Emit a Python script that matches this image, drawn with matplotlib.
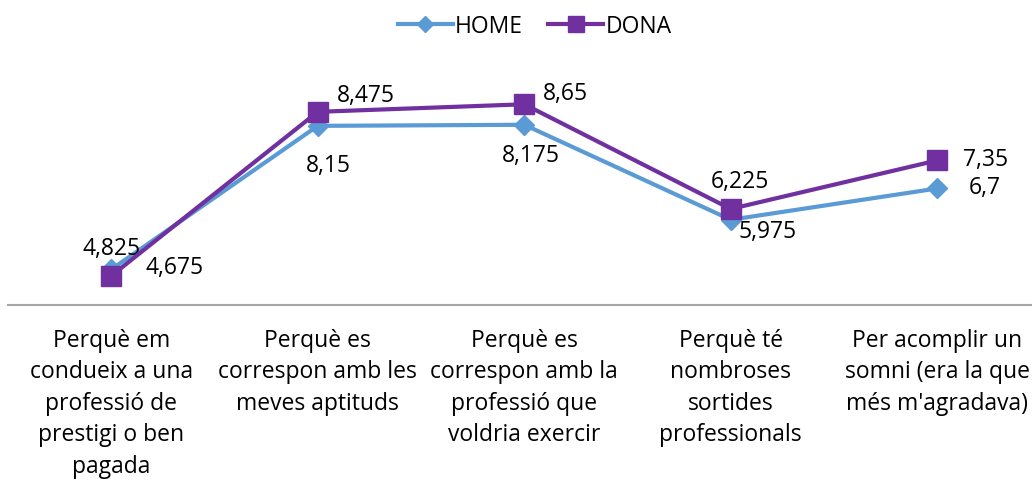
import numpy as np
import matplotlib.pyplot as plt

plt.rcParams['font.family'] = ['Open Sans', 'DejaVu Sans']

categories = ["Perquè em\ncondueix a una\nprofessió de\nprestigi o ben\npagada",
              "Perquè es\ncorrespon amb les\nmeves aptituds",
              "Perquè es\ncorrespon amb la\nprofessió que\nvoldria exercir",
              "Perquè té\nnombroses\nsortides\nprofessionals",
              "Per acomplir un\nsomni (era la que\nmés m'agradava)"]
home = [4.825, 8.15, 8.175, 5.975, 6.7]
dona = [4.675, 8.475, 8.65, 6.225, 7.35]

# label offsets in pixels (dx, dy), tuned by eye
home_offsets = [(0, 20), (11, -40), (7, -31), (37, -12), (48, 0)]
dona_offsets = [(63, 8), (48, 16), (41, 10), (9, 27), (48, 0)]

blue = '#5B9BD5'
purple = '#7030A0'

fig = plt.figure(figsize=(10.32, 4.82), dpi=100)
ax = fig.add_axes([8 / 1032, 177 / 482, 1032.5 / 1032, 259 / 482])

x = np.arange(len(categories))
ax.plot(x, home, '-D', color=blue, lw=3, ms=10, label='HOME', clip_on=False, zorder=3)
ax.plot(x, dona, '-s', color=purple, lw=3, ms=14, label='DONA', clip_on=False, zorder=4)

def fmt(v):
    return ('%g' % v).replace('.', ',')

for xi, v, off in zip(x, home, home_offsets):
    ax.annotate(fmt(v), (xi, v), xytext=off, textcoords='offset pixels',
                ha='center', va='center', fontsize=16.5, color='black')
for xi, v, off in zip(x, dona, dona_offsets):
    ax.annotate(fmt(v), (xi, v), xytext=off, textcoords='offset pixels',
                ha='center', va='center', fontsize=16.5, color='black')

ax.set_xlim(-0.5, 4.5)
ax.set_ylim(4, 10)
ax.set_yticks([])
for s in ['top', 'right', 'left']:
    ax.spines[s].set_visible(False)
ax.spines['bottom'].set_color('#A6A6A6')
ax.spines['bottom'].set_linewidth(1.5)
ax.set_xticks(x)
ax.set_xticklabels(categories, fontsize=16.5, linespacing=1.42)
ax.tick_params(axis='x', length=0, pad=17)

fig.legend(loc='center', bbox_to_anchor=(0.518, 0.945), ncol=2, frameon=False,
           fontsize=16.5, handlelength=2.4, handletextpad=0.1, columnspacing=1.1,
           markerscale=0.85)

fig.savefig('out.png', dpi=100)
